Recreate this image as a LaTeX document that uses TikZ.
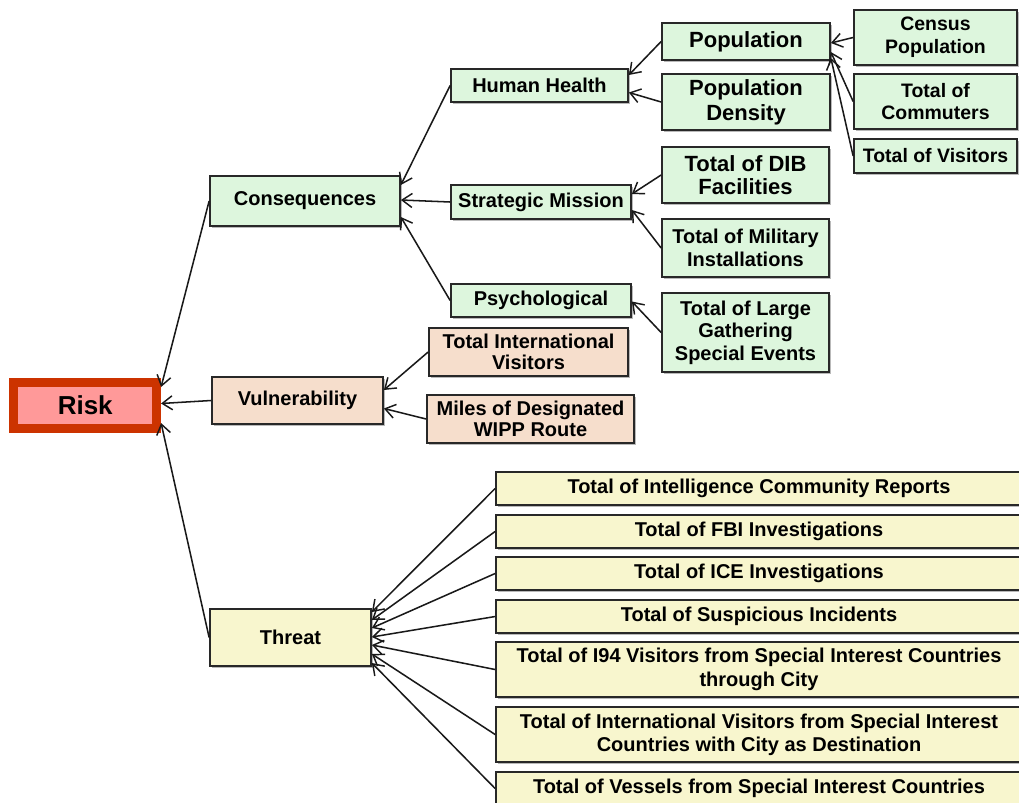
\documentclass[tikz,border=0pt]{standalone}
\usepackage{fontspec}
\setmainfont{Liberation Sans}
\usetikzlibrary{arrows.meta,calc,shadows}
\definecolor{gfill}{RGB}{221,246,221}
\definecolor{pfill}{RGB}{246,222,204}
\definecolor{yfill}{RGB}{248,246,206}
\definecolor{riskfill}{RGB}{255,153,153}
\definecolor{riskdraw}{RGB}{204,51,0}
\definecolor{edge}{RGB}{40,40,40}
\begin{document}
\begin{tikzpicture}[x=0.75pt,y=-0.75pt,
  wh/.style 2 args={minimum width=#1*0.75pt, minimum height=#2*0.75pt},
  box/.style={draw=edge, line width=1.3pt, inner sep=1pt, align=center,
    font=\bfseries\fontsize{15}{17.5}\selectfont,
    drop shadow={shadow xshift=1.3pt, shadow yshift=-1.3pt, fill=black!50, opacity=0.55}},
  gbox/.style={box, fill=gfill},
  pbox/.style={box, fill=pfill},
  ybox/.style={box, fill=yfill},
  arr/.style={-{Straight Barb[length=7.5pt,width=10.5pt,line width=1.1pt]}, line width=1.15pt, draw=black!90}
]
\useasboundingbox (0,0) rectangle (1019,802);

% root
\node[draw=riskdraw, line width=6.5pt, fill=riskfill, wh={143}{45.5}, inner sep=1pt,
  font=\bfseries\fontsize{19.5}{22}\selectfont] (risk) at (85.25,405.5) {Risk};

% level 1
\node[gbox, wh={190}{50}] (cons) at (305,201) {Consequences};
\node[pbox, wh={171}{47}] (vul) at (297.5,400.5) {Vulnerability};
\node[ybox, wh={161}{57}] (thr) at (290.5,637.5) {Threat};

% level 2 (consequences)
\node[gbox, wh={177}{33}] (hh) at (539.5,85.5) {Human Health};
\node[gbox, wh={180}{34}] (sm) at (541,202) {Strategic Mission};
\node[gbox, wh={180}{33}] (psy) at (541,300.5) {Psychological};

% vulnerability children
\node[pbox, wh={199}{48}, font=\bfseries\fontsize{15}{15.5}\selectfont] (tiv) at (528.5,352) {Total International\\Visitors};
\node[pbox, wh={207}{48}, font=\bfseries\fontsize{15}{15.5}\selectfont] (wipp) at (530.5,419) {Miles of Designated\\WIPP Route};

% level 3
\node[gbox, wh={168}{37}, font=\bfseries\fontsize{16.5}{19}\selectfont] (pop) at (746,41.5) {Population};
\node[gbox, wh={168}{56}, font=\bfseries\fontsize{16.5}{18.5}\selectfont] (popd) at (746,102) {Population\\Density};
\node[gbox, wh={167}{56}, font=\bfseries\fontsize{16.5}{17.5}\selectfont] (dib) at (745.5,175) {Total of DIB\\Facilities};
\node[gbox, wh={167}{58}, font=\bfseries\fontsize{15}{17.5}\selectfont] (mil) at (745.5,248) {Total of Military\\Installations};
\node[gbox, wh={167}{79}, font=\bfseries\fontsize{15}{16.9}\selectfont] (lge) at (745.5,332.5) {Total of Large\\Gathering\\Special Events};

% level 4
\node[gbox, wh={163}{55}, font=\bfseries\fontsize{14.6}{17}\selectfont] (cen) at (935.5,37.5) {Census\\Population};
\node[gbox, wh={163}{55}, font=\bfseries\fontsize{14.6}{17}\selectfont] (com) at (935.5,101.5) {Total of\\Commuters};
\node[gbox, wh={163}{34}, font=\bfseries\fontsize{14.6}{17}\selectfont] (vis) at (935.5,156) {Total of Visitors};

% threat children
\begin{scope}[every node/.append style={font=\bfseries\fontsize{15}{19.8}\selectfont}]
\node[ybox, wh={526}{33}] (t1) at (759,488.5) {Total of Intelligence Community Reports};
\node[ybox, wh={526}{33}] (t2) at (759,531.5) {Total of FBI Investigations};
\node[ybox, wh={526}{33}] (t3) at (759,573.5) {Total of ICE Investigations};
\node[ybox, wh={526}{33}] (t4) at (759,616.5) {Total of Suspicious Incidents};
\node[ybox, wh={526}{55}] (t5) at (759,669.5) {Total of I94 Visitors from Special Interest Countries\\through City};
\node[ybox, wh={526}{55}] (t6) at (759,734.5) {Total of International Visitors from Special Interest\\Countries with City as Destination};
\node[ybox, wh={526}{33}] (t7) at (759,788.5) {Total of Vessels from Special Interest Countries};
\end{scope}

% connectors
\draw[arr] (cons.west) -- ($(risk.east)+(0,-18.5)$);
\draw[arr] (vul.west) -- ($(risk.east)+(0,-2)$);
\draw[arr] (thr.west) -- ($(risk.east)+(0,17.5)$);

\draw[arr] (hh.west) -- ($(cons.east)+(0,-16)$);
\draw[arr] (sm.west) -- ($(cons.east)+(0,-1)$);
\draw[arr] (psy.west) -- ($(cons.east)+(0,16)$);

\draw[arr] (pop.west) -- ($(hh.east)+(0,-10.5)$);
\draw[arr] (popd.west) -- ($(hh.east)+(0,7)$);

\draw[arr] (dib.west) -- ($(sm.east)+(0,-8)$);
\draw[arr] (mil.west) -- ($(sm.east)+(0,8)$);

\draw[arr] (lge.west) -- ($(psy.east)+(0,1)$);

\draw[arr] (cen.west) -- ($(pop.east)+(0,1.5)$);
\draw[arr] (com.west) -- ($(pop.east)+(0,10.5)$);
\draw[arr] (vis.west) -- ($(pop.east)+(0,16.5)$);

\draw[arr] (tiv.west) -- ($(vul.east)+(0,-10.5)$);
\draw[arr] (wipp.west) -- ($(vul.east)+(0,8)$);

\draw[arr] (t1.west) -- ($(thr.east)+(0,-25.5)$);
\draw[arr] (t2.west) -- ($(thr.east)+(0,-17.5)$);
\draw[arr] (t3.west) -- ($(thr.east)+(0,-9.5)$);
\draw[arr] (t4.west) -- ($(thr.east)+(0,-0.5)$);
\draw[arr] (t5.west) -- ($(thr.east)+(0,7.5)$);
\draw[arr] (t6.west) -- ($(thr.east)+(0,16.5)$);
\draw[arr] (t7.west) -- ($(thr.east)+(0,25.5)$);
\end{tikzpicture}
\end{document}
